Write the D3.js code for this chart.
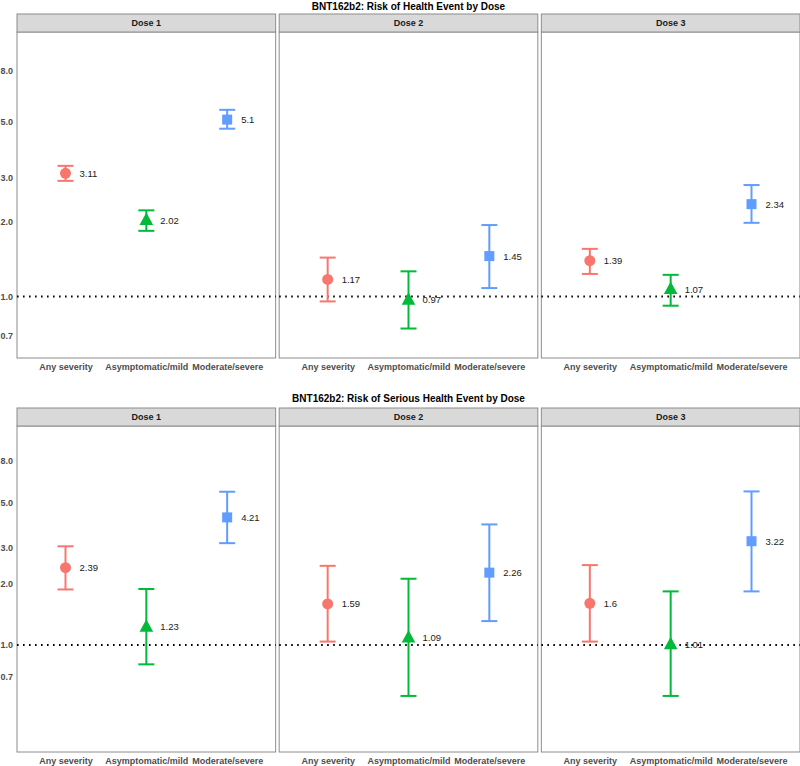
<!DOCTYPE html>
<html>
<head>
<meta charset="utf-8">
<script src="https://cdn.jsdelivr.net/npm/d3@7"></script>
<style>
  html, body { margin: 0; padding: 0; background: #fff; }
  svg { display: block; font-family: "Liberation Sans", Arial, sans-serif; }
</style>
</head>
<body>
<svg id="chart" width="800" height="766"></svg>
<script>
// ---------- data ----------
const categories = ["Any severity", "Asymptomatic/mild", "Moderate/severe"];
const doses = ["Dose 1", "Dose 2", "Dose 3"];
const yTicks = [0.7, 1.0, 2.0, 3.0, 5.0, 8.0];

const healthTitle = "BNT162b2: Risk of Health Event by Dose";
const healthEst = [[3.11, 2.02, 5.1], [1.17, 0.97, 1.45], [1.39, 1.07, 2.34]];
const healthLo  = [[2.90, 1.83, 4.69], [0.955, 0.744, 1.08], [1.23, 0.918, 1.97]];
const healthHi  = [[3.33, 2.21, 5.58], [1.43, 1.26, 1.93], [1.55, 1.22, 2.79]];
const healthDomain = [0.567, 11.43];

const seriousTitle = "BNT162b2: Risk of Serious Health Event by Dose";
const seriousEst = [[2.39, 1.23, 4.21], [1.59, 1.09, 2.26], [1.6, 1.01, 3.22]];
const seriousLo  = [[1.87, 0.805, 3.15], [1.04, 0.564, 1.31], [1.04, 0.564, 1.83]];
const seriousHi  = [[3.04, 1.88, 5.62], [2.44, 2.11, 3.89], [2.46, 1.83, 5.64]];
const seriousDomain = [0.30, 11.78];

const colors = ["#F8766D", "#00BA38", "#619CFF"];
const shapes = ["circle", "triangle", "square"];

// ---------- layout ----------
const svg = d3.select("#chart");
const plotLeft = 17, plotRight = 800, gap = 3.5;
const panelW = (plotRight - plotLeft - 2 * gap) / 3;

const x = d3.scalePoint().domain(categories).range([0, panelW]).padding(0.6);

function drawFigure(cfg) {
  const g = svg.append("g");
  const y = d3.scaleLog().domain(cfg.domain).range([cfg.panelBottom, cfg.panelTop]);

  // title
  g.append("text")
    .attr("x", (plotLeft + plotRight) / 2)
    .attr("y", cfg.titleY)
    .attr("text-anchor", "middle")
    .attr("dominant-baseline", "central")
    .attr("font-size", "10px")
    .attr("font-weight", "bold")
    .attr("fill", "#000")
    .text(cfg.title);

  // y axis (left only)
  const yAxis = d3.axisLeft(y).tickValues(yTicks).tickFormat(d3.format(".1f")).tickSize(0).tickPadding(4);
  const ya = g.append("g").attr("transform", `translate(${plotLeft},0)`).call(yAxis);
  ya.select(".domain").remove();
  ya.selectAll("text")
    .attr("font-size", "9px")
    .attr("font-weight", "bold")
    .attr("fill", "#4D4D4D")
    .attr("font-family", "Liberation Sans, Arial, sans-serif");

  doses.forEach((dose, di) => {
    const px = plotLeft + di * (panelW + gap);
    const p = g.append("g").attr("transform", `translate(${px},0)`);

    // panel background + border
    p.append("rect")
      .attr("x", 0).attr("y", cfg.panelTop)
      .attr("width", panelW).attr("height", cfg.panelBottom - cfg.panelTop)
      .attr("fill", "#fff").attr("stroke", "#8C8C8C").attr("stroke-width", 1);

    // strip
    p.append("rect")
      .attr("x", 0).attr("y", cfg.stripTop)
      .attr("width", panelW).attr("height", cfg.panelTop - cfg.stripTop)
      .attr("fill", "#D9D9D9").attr("stroke", "#8C8C8C").attr("stroke-width", 1);
    p.append("text")
      .attr("x", panelW / 2)
      .attr("y", (cfg.stripTop + cfg.panelTop) / 2)
      .attr("text-anchor", "middle")
      .attr("dominant-baseline", "central")
      .attr("font-size", "9px")
      .attr("font-weight", "bold")
      .attr("fill", "#1A1A1A")
      .text(dose);

    // reference line at 1
    p.append("line")
      .attr("x1", 0).attr("x2", panelW)
      .attr("y1", y(1)).attr("y2", y(1))
      .attr("stroke", "#000").attr("stroke-width", 2)
      .attr("stroke-dasharray", "1.6,4.4").attr("stroke-linecap", "butt");

    // x axis labels
    const xAxis = d3.axisBottom(x).tickSize(0).tickPadding(6);
    const xa = p.append("g").attr("transform", `translate(0,${cfg.panelBottom})`).call(xAxis);
    xa.select(".domain").remove();
    xa.selectAll("text")
      .attr("font-size", "9px")
      .attr("font-weight", "bold")
      .attr("fill", "#4D4D4D")
      .attr("font-family", "Liberation Sans, Arial, sans-serif");

    // error bars and points
    categories.forEach((cat, ci) => {
      const cx = x(cat);
      const est = cfg.est[di][ci], lo = cfg.lo[di][ci], hi = cfg.hi[di][ci];
      const col = colors[ci];
      const eb = p.append("g").attr("stroke", col).attr("stroke-width", 2).attr("fill", "none");
      eb.append("line").attr("x1", cx).attr("x2", cx).attr("y1", y(lo)).attr("y2", y(hi));
      eb.append("line").attr("x1", cx - 8).attr("x2", cx + 8).attr("y1", y(lo)).attr("y2", y(lo));
      eb.append("line").attr("x1", cx - 8).attr("x2", cx + 8).attr("y1", y(hi)).attr("y2", y(hi));

      const cy = y(est);
      if (shapes[ci] === "circle") {
        p.append("circle").attr("cx", cx).attr("cy", cy).attr("r", 5.5).attr("fill", col);
      } else if (shapes[ci] === "triangle") {
        p.append("path")
          .attr("d", `M${cx},${cy - 7.5} L${cx + 6.8},${cy + 5} L${cx - 6.8},${cy + 5} Z`)
          .attr("fill", col);
      } else {
        p.append("rect").attr("x", cx - 5).attr("y", cy - 5).attr("width", 10).attr("height", 10).attr("fill", col);
      }

      p.append("text")
        .attr("x", cx + 14)
        .attr("y", cy)
        .attr("dominant-baseline", "central")
        .attr("font-size", "9.5px")
        .attr("fill", "#1A1A1A")
        .text(String(est));
    });
  });
}

drawFigure({
  title: healthTitle, titleY: 6, stripTop: 14, panelTop: 32, panelBottom: 358,
  domain: healthDomain, est: healthEst, lo: healthLo, hi: healthHi
});
drawFigure({
  title: seriousTitle, titleY: 398, stripTop: 408, panelTop: 426, panelBottom: 752,
  domain: seriousDomain, est: seriousEst, lo: seriousLo, hi: seriousHi
});
</script>
</body>
</html>
